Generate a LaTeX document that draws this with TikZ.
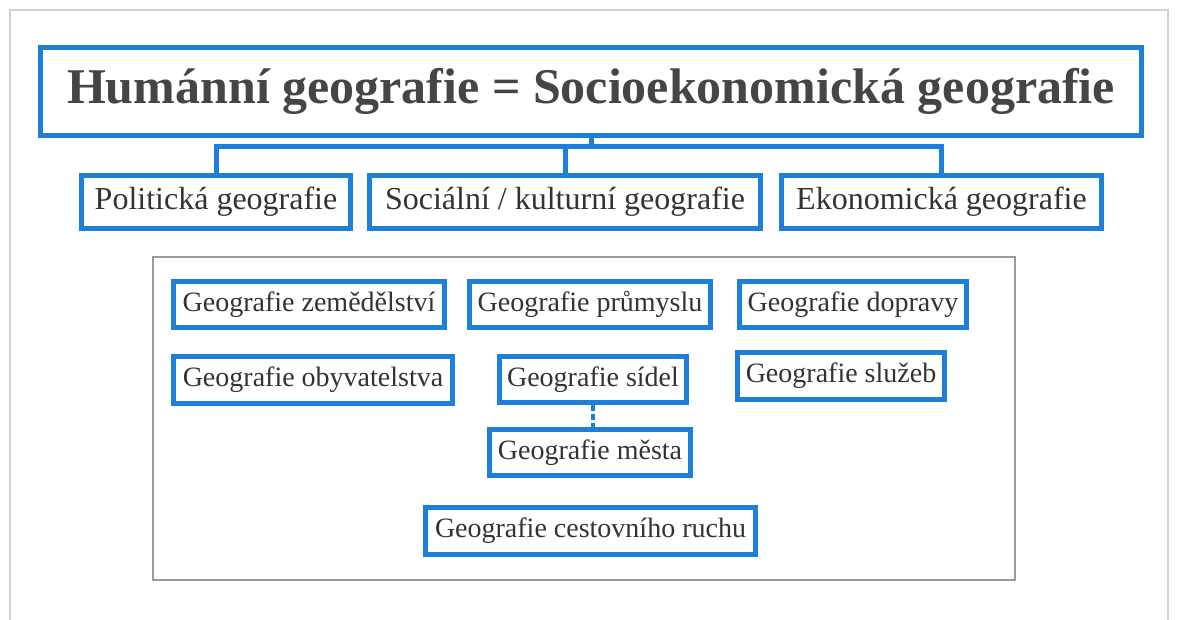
\documentclass[tikz,border=0pt]{standalone}
\usepackage{fontspec}
\setmainfont{Liberation Serif}
\usetikzlibrary{backgrounds}
\definecolor{boxblue}{HTML}{1E7FDA}
\definecolor{txt}{HTML}{333333}
\definecolor{ttl}{HTML}{454545}
\definecolor{framegray}{HTML}{D2D2D2}
\definecolor{panelgray}{HTML}{9A9A9A}
\begin{document}
\begin{tikzpicture}[x=1pt,y=-1pt,
  bluebox/.style={draw=boxblue,line width=5pt,fill=white,inner sep=0pt,text=txt,align=center},
  titlebox/.style={bluebox,text=ttl,font=\fontsize{50}{54}\selectfont\bfseries},
  mainbox/.style={bluebox,font=\fontsize{32}{36}\selectfont},
  subbox/.style={bluebox,font=\fontsize{28}{32}\selectfont},
  conn/.style={draw=boxblue,line width=5pt},
  dashconn/.style={draw=boxblue,line width=3.5pt,dash pattern=on 6pt off 3pt}
]
\useasboundingbox (0,0) rectangle (1177,619);
% outer frame
\draw[framegray,line width=1.5pt] (10,640) -- (10,10) -- (1168,10) -- (1168,640);
% panel
\draw[panelgray,line width=2.5pt] (153,257) rectangle (1015,580);

\coordinate (bus) at (591,146);
\node[titlebox,minimum width=1101pt,minimum height=88pt] (title) at (591,91.5) {Humánní geografie = Socioekonomická geografie};
\node[mainbox,minimum width=269pt,minimum height=53pt] (pol) at (216,202) {Politická geografie};
\node[mainbox,minimum width=391pt,minimum height=53pt] (soc) at (565,202) {Sociální / kulturní geografie};
\node[mainbox,minimum width=320pt,minimum height=53pt] (eko) at (941.5,202) {Ekonomická geografie};

\begin{scope}[on background layer]
\draw[conn] (title.south) -- (bus);
\draw[conn] (pol.north) -- (pol.north |- bus) -- (eko.north |- bus) -- (eko.north);
\draw[conn] (soc.north) -- (soc.north |- bus);
\end{scope}

\node[subbox,minimum width=271pt,minimum height=46pt] (zem) at (309,304.5) {Geografie zemědělství};
\node[subbox,minimum width=241pt,minimum height=46pt] (prum) at (590,304.5) {Geografie průmyslu};
\node[subbox,minimum width=227pt,minimum height=46pt] (dop) at (853,304.5) {Geografie dopravy};
\node[subbox,minimum width=279pt,minimum height=47pt] (oby) at (313,380) {Geografie obyvatelstva};
\node[subbox,minimum width=187pt,minimum height=46pt] (sid) at (593,379.5) {Geografie sídel};
\node[subbox,minimum width=207pt,minimum height=47pt] (slu) at (841,376) {Geografie služeb};
\node[subbox,minimum width=201pt,minimum height=46pt] (mes) at (590,452.5) {Geografie města};
\node[subbox,minimum width=330pt,minimum height=47pt] (ces) at (590.5,531) {Geografie cestovního ruchu};
\draw[dashconn] (sid.south) -- (sid.south |- mes.north);
\end{tikzpicture}
\end{document}
